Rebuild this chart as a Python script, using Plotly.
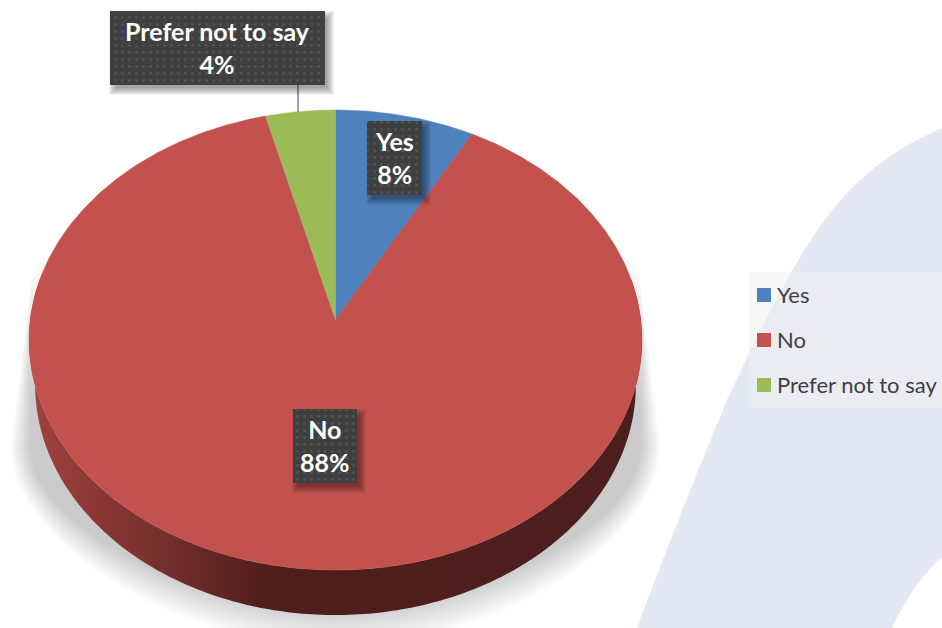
import numpy as np
import plotly.graph_objects as go

# Survey results
categories = ["Yes", "No", "Prefer not to say"]
values = [8, 88, 4]
colors = ["#4f81bd", "#c3514e", "#9bbb59"]

FONT = "Lato"
W, H = 942, 628

# Tilted-disc projection: the far side of the disc is foreshortened,
# so the apex sits above the centre of the visible ellipse.
APEX_X, APEX_Y = 335.5, 320.0
TILT = 0.087
SCALE_X, SCALE_Y = 305.3, 228.3
DEPTH = 45.0
BASE_NARROWING = 0.98


def project(theta, drop=0.0, narrow=1.0):
    u, v = np.sin(theta), np.cos(theta)
    d = 1 + TILT * v
    return APEX_X + narrow * SCALE_X * u / d, APEX_Y - SCALE_Y * v / d + drop


def closed_rect(x0, y0, x1, y1):
    return [x0, x1, x1, x0, x0], [y0, y0, y1, y1, y0]


fig = go.Figure()

# Soft ground shadow: nested translucent outlines fading outwards
LAYERS = 26
for i in range(LAYERS):
    t = i / (LAYERS - 1)
    rx = 326 - 20 * t
    ry = 200 - 40 * t
    cy = 450
    p = 1.75
    s = np.linspace(-1, 1, 121)
    low_x = APEX_X + rx * s
    low_y = cy + ry * (1 - np.abs(s) ** p) ** (1 / p)
    # Flanks taper towards the disc and end inside it
    top_y = 262 + 140 * t
    top_dx = rx - (rx - 302) * (cy - top_y) / (cy - 262)
    xs = np.concatenate([[APEX_X - 200, APEX_X - top_dx], low_x, [APEX_X + top_dx, APEX_X + 200]])
    ys = np.concatenate([[200, top_y], low_y, [top_y, 200]])
    fig.add_trace(go.Scatter(
        x=xs, y=ys, mode="none", fill="toself",
        fillcolor="rgba(0,0,0,0.0085)", hoverinfo="skip", showlegend=False))

# Outer wall of the disc, visible along its near edge
near = np.linspace(np.pi / 2 - 0.18, 3 * np.pi / 2 + 0.18, 241)
top_x, top_y = project(near)
bot_x, bot_y = project(near, DEPTH, BASE_NARROWING)
fig.add_trace(go.Scatter(
    x=np.concatenate([bot_x, top_x[::-1]]),
    y=np.concatenate([bot_y, top_y[::-1]]),
    mode="none", fill="toself",
    fillgradient=dict(
        type="horizontal",
        colorscale=[[0, "#a04240"], [0.11, "#8b3836"], [0.23, "#722e2c"],
                    [0.39, "#4f1e1c"], [1, "#4c1f1e"]]),
    hoverinfo="skip", showlegend=False))

# Top face: one wedge per category, swept from the share of the total
total = sum(values)
start = 0.0
for name, value, color in zip(categories, values, colors):
    sweep = 2 * np.pi * value / total
    n = max(int(value * 6), 24)
    angles = np.linspace(start, start + sweep, n)
    ex, ey = project(angles)
    fig.add_trace(go.Scatter(
        x=np.concatenate([[APEX_X], ex, [APEX_X]]),
        y=np.concatenate([[APEX_Y], ey, [APEX_Y]]),
        mode="lines", fill="toself", fillcolor=color,
        line=dict(color=color, width=0.5),
        name=name, hoverinfo="name", showlegend=False))
    start += sweep

# Leader line from the small slice up to its callout
fig.add_trace(go.Scatter(
    x=[298, 298], y=[85, 112], mode="lines",
    line=dict(color="#7f7f7f", width=1.5),
    hoverinfo="skip", showlegend=False))

# Value callouts
boxes = [(367, 121, 422, 195), (293, 409, 357, 483), (110, 11, 325, 85)]
for name, value, (x0, y0, x1, y1) in zip(categories, values, boxes):
    for k in range(8):
        grow = 5 - k
        sx, sy = closed_rect(x0 + 4 - grow, y0 + 5 - grow, x1 + 4 + grow, y1 + 5 + grow)
        fig.add_trace(go.Scatter(
            x=sx, y=sy, mode="none", fill="toself",
            fillcolor="rgba(0,0,0,0.05)", hoverinfo="skip", showlegend=False))
    bx, by = closed_rect(x0, y0, x1, y1)
    fig.add_trace(go.Scatter(
        x=bx, y=by, mode="none", fill="toself",
        fillpattern=dict(shape=".", bgcolor="#3f3f3f", fgcolor="#525252",
                         size=7, solidity=0.14, fillmode="replace"),
        hoverinfo="skip", showlegend=False))
    fig.add_annotation(
        x=(x0 + x1) / 2, y=(y0 + y1) / 2 - 1, xref="x", yref="y",
        text=f"<b>{name}<br>{value}%</b>", showarrow=False,
        font=dict(family=FONT, size=25, color="white"), align="center")

# Key on the right
key_y = [295, 340, 385]
for name, color, y in zip(categories, colors, key_y):
    fig.add_trace(go.Scatter(
        x=[764], y=[y], mode="markers",
        marker=dict(symbol="square", size=14, color=color, line=dict(width=0)),
        hoverinfo="skip", showlegend=False))
    fig.add_annotation(
        x=775, y=y - 1, xref="x", yref="y", xanchor="left", yanchor="middle",
        text=name, showarrow=False,
        font=dict(family=FONT, size=22, color="#404040"))

shapes = [
    # Pale sweeping band behind the chart
    dict(type="path", layer="below", line=dict(width=0), fillcolor="#e4e8f4",
         path=("M 942 128 C 900 146 862 172 830 213 C 795 258 762 325 727 400 "
               "C 700 465 668 545 637 628 L 892 628 C 905 600 922 575 942 557 Z")),
    # Translucent plate behind the key
    dict(type="rect", layer="below", x0=749, y0=272, x1=942, y1=408,
         line=dict(width=0), fillcolor="rgba(240,240,240,0.5)"),
]

fig.update_layout(
    width=W, height=H,
    margin=dict(l=0, r=0, t=0, b=0),
    paper_bgcolor="white", plot_bgcolor="white",
    showlegend=False,
    shapes=shapes,
    xaxis=dict(range=[0, W], visible=False, fixedrange=True),
    yaxis=dict(range=[H, 0], visible=False, fixedrange=True),
)

fig.write_html("out.html")
